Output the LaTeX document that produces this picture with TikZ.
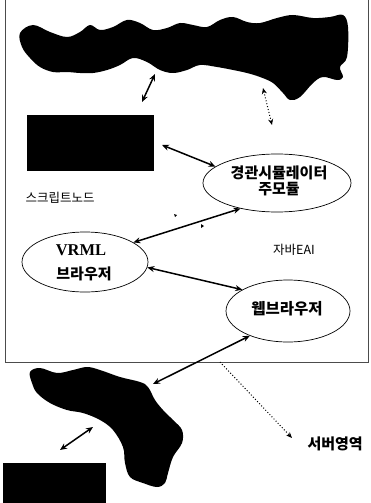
\documentclass[tikz,border=0pt]{standalone}
\usepackage{fontspec}
\setmainfont{Liberation Serif}
\newfontfamily\kr{Noto Sans CJK KR}
\usetikzlibrary{arrows.meta,shapes.geometric}
\tikzset{
  ell/.style={draw=black, line width=0.7pt, ellipse, inner sep=0pt},
  dbl/.style={{Stealth[length=7pt,width=6pt]}-{Stealth[length=7pt,width=6pt]}, line width=1.5pt},
  dotdbl/.style={{Stealth[length=6pt,width=5pt]}-{Stealth[length=6pt,width=5pt]}, line width=1pt, dotted},
  dotone/.style={-{Stealth[length=6pt,width=5pt]}, line width=1pt, dotted},
  frame/.style={draw=black!70, line width=0.7pt},
  lbl/.style={font=\kr\fontsize{12.5}{14}\selectfont},
  blbl/.style={font=\kr\bfseries\fontsize{15}{19}\selectfont, align=center},
}
\begin{document}
\begin{tikzpicture}[x=1pt,y=-1pt]
\useasboundingbox (0,0) rectangle (370,503);
% frame
\draw[frame] (5,-5) -- (5,362) -- (368,362) -- (368,-5);
% top blob
\fill[black] plot[smooth cycle, tension=0.6] coordinates {
 (20,33) (33,25) (50,32) (67,37) (80,32) (90,25) (100,30) (113,27) (127,20) (140,23)
 (153,30) (167,28) (180,23) (193,25) (207,27) (220,20) (233,17) (247,22) (260,23)
 (277,18) (293,15) (313,18) (330,17) (343,15) (348,27) (347,57) (340,67) (343,77)
 (337,80) (323,77) (313,83) (300,97) (290,100) (283,93) (273,83) (260,77) (247,73)
 (233,70) (217,67) (200,65) (187,70) (173,73) (160,70) (147,62) (133,58) (120,65)
 (107,70) (93,73) (80,73) (67,72) (53,72) (40,67) (30,58) (22,47)};
% top arrows
\coordinate (a1) at (142,102); \coordinate (a2) at (155,74);
\draw[dbl] (a1) -- (a2);
\coordinate (d1) at (263,88); \coordinate (d2) at (272,125);
\draw[dotdbl] (d1) -- (d2);
% black rectangle top
\fill[black] (27,115) rectangle (154,171);
\coordinate (r1) at (162,145);
% main module ellipse
\node[ell, minimum width=148pt, minimum height=58pt] (mm) at (277,183) {};
\node[blbl] (mmt) at (279,181) {경관시뮬레이터\\[-3pt]주모듈};
\draw[dbl] (r1) -- (mm.165);
% labels
\node[lbl] (sn) at (60,198) {스크립트노드};
\node[lbl] (eai) at (294,250) {자바EAI};
% VRML ellipse
\node[ell, minimum width=126pt, minimum height=60pt] (vr) at (85,262) {};
\node[font=\bfseries\fontsize{16.5}{18}\selectfont] (vrt) at (81,250) {VRML};
\node[font=\kr\bfseries\fontsize{15}{18}\selectfont] (vrb) at (84,274) {브라우저};
\draw[dbl] (vr.22) -- (mm.215);
% web browser ellipse
\node[ell, minimum width=124pt, minimum height=62pt] (wb) at (288,311) {};
\node[font=\kr\bfseries\fontsize{15.5}{18}\selectfont] (wbt) at (287,309) {웹브라우저};
\draw[dbl] (vr.-5) -- (wb.155);
% tiny marks
\fill[black] (174,214) -- (177,215) -- (175,217) -- cycle;
\fill[black] (201,224) -- (204,226) -- (201,228) -- cycle;
% bottom blob
\fill[black] plot[smooth cycle, tension=0.6] coordinates {
 (30,372) (40,368) (57,373) (73,370) (87,367) (100,370) (120,377) (140,382) (148,387)
 (155,400) (163,410) (173,420) (182,430) (182,443) (173,457) (168,473) (165,483)
 (157,487) (143,483) (130,477) (125,463) (123,447) (113,430) (100,420) (83,413)
 (67,410) (50,403) (37,393) (32,383)};
\coordinate (b1) at (153,384);
\draw[dbl] (wb.213) -- (b1);
% dotted to server
\coordinate (s1) at (220,362); \coordinate (s2) at (292,438);
\draw[dotone] (s1) -- (s2);
\node[font=\kr\bfseries\fontsize{15}{18}\selectfont, anchor=west] (srv) at (304,444) {서버영역};
% bottom arrow and rectangle
\coordinate (c1) at (60,450); \coordinate (c2) at (93,427);
\draw[dbl] (c1) -- (c2);
\fill[black] (3,463) rectangle (106,506);
\end{tikzpicture}
\end{document}
